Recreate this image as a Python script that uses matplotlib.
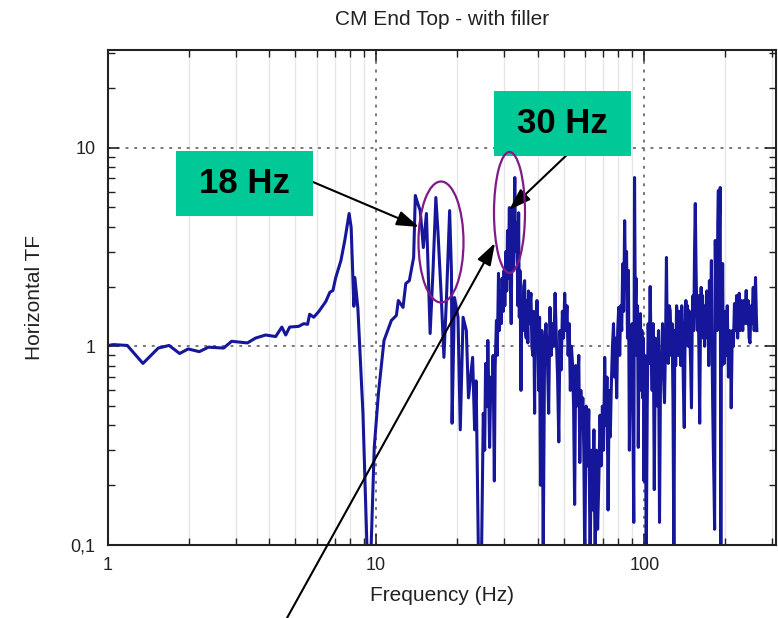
import matplotlib
matplotlib.use("Agg")
from matplotlib import pyplot as plt
from matplotlib import patches
from matplotlib.ticker import FixedLocator, FixedFormatter, LogLocator, NullFormatter
import numpy as np

plt.rcParams['font.family'] = ['Liberation Sans', 'DejaVu Sans']

# data: (frequency in Hz, horizontal TF)
seg_low = [(1.0, 1.01), (1.05, 1.02), (1.18, 1.01), (1.35, 0.82), (1.54, 0.98), (1.69, 1.01),
           (1.85, 0.92), (1.99, 0.97), (2.19, 0.94), (2.37, 0.99), (2.70, 0.98), (2.89, 1.06),
           (3.31, 1.04), (3.55, 1.10), (3.87, 1.14), (4.04, 1.13), (4.22, 1.12), (4.45, 1.25),
           (4.60, 1.14), (4.76, 1.25), (5.14, 1.26), (5.37, 1.30), (5.55, 1.29), (5.65, 1.45),
           (5.85, 1.40), (6.12, 1.50), (6.49, 1.68), (6.72, 1.87), (6.90, 1.91), (7.07, 2.22),
           (7.39, 2.70), (7.64, 3.41), (7.93, 4.66), (8.07, 3.97), (8.26, 1.59), (8.33, 2.22),
           (8.42, 1.91), (8.55, 1.55), (8.93, 0.46), (9.26, 0.09), (9.40, 0.05), (9.56, 0.09),
           (9.84, 0.31), (10.2, 0.58), (10.7, 1.07), (11.4, 1.35), (11.9, 1.43)]

seg_18hz = [(12.1, 1.70), (12.6, 1.57), (12.9, 2.07), (13.3, 2.14), (13.8, 2.80), (14.0, 5.74),
            (14.3, 5.23), (14.6, 4.82), (15.0, 3.14), (15.4, 4.66), (15.9, 1.16), (16.3, 2.41),
            (16.7, 5.61), (17.0, 3.82), (17.5, 1.76), (17.9, 0.88), (18.3, 1.76), (18.8, 4.82),
            (19.1, 2.33), (19.2, 0.41), (19.6, 1.76), (20.2, 1.40), (20.6, 0.38), (21.1, 1.40),
            (21.7, 1.20), (22.1, 0.55), (22.9, 0.88), (23.3, 0.38), (23.6, 0.67), (24.1, 0.08)]

seg_30hz = [(24.7, 0.08), (25.1, 0.46), (25.4, 0.30), (25.6, 0.82), (25.9, 0.50), (26.1, 1.07),
            (26.3, 0.60), (26.5, 0.31), (26.8, 0.70), (27.1, 0.58), (27.3, 0.90), (27.6, 0.21),
            (27.8, 0.80), (28.1, 1.35), (28.3, 0.90), (28.6, 2.33), (28.8, 1.20), (29.0, 1.90),
            (29.3, 1.30), (29.5, 2.20), (29.8, 1.50), (30.0, 2.41), (30.2, 1.60), (30.5, 3.00),
            (30.7, 1.90), (30.9, 3.82), (31.1, 2.20), (31.4, 4.99), (31.6, 2.50), (31.9, 1.30),
            (32.1, 3.50), (32.3, 5.00), (32.5, 2.40), (32.7, 4.00), (32.9, 7.07), (33.1, 3.00),
            (33.3, 4.20), (33.6, 2.61), (33.8, 1.60), (34.0, 4.70), (34.2, 1.40), (34.4, 2.40),
            (34.7, 0.60), (34.9, 1.60), (35.2, 1.20), (35.5, 2.00), (35.8, 2.14), (36.0, 1.20),
            (36.3, 1.10), (36.5, 1.70), (36.8, 1.04), (37.0, 1.90), (37.3, 1.30), (37.6, 1.70),
            (37.8, 1.85), (38.1, 1.00), (38.4, 0.90), (38.7, 1.50), (39.0, 0.46), (39.2, 1.30),
            (39.5, 1.00), (39.8, 1.70), (40.1, 1.10), (40.4, 0.60), (40.7, 1.40)]

seg_40_100 = [(41.0, 0.20), (41.5, 1.20), (42.0, 0.09), (42.5, 1.00), (43.0, 1.30), (43.5, 0.90),
              (44.0, 0.46), (44.5, 1.57), (45.0, 0.90), (45.5, 1.30), (46.0, 1.00), (46.5, 1.85),
              (47.0, 1.10), (47.5, 0.70), (48.0, 0.33), (48.5, 1.20), (49.0, 0.76), (49.5, 1.50),
              (50.0, 1.10), (50.5, 1.85), (51.0, 1.20), (51.5, 1.60), (52.0, 0.90), (52.5, 1.30),
              (53.0, 0.60), (53.5, 1.00), (54.0, 0.82), (54.5, 0.50), (55.0, 0.16), (55.5, 0.80),
              (56.0, 0.50), (56.5, 0.67), (57.0, 0.90), (57.5, 0.26), (58.0, 0.60), (58.5, 0.40),
              (59.0, 0.55), (59.5, 0.30), (60.0, 0.08), (60.7, 0.50), (61.4, 0.25), (62.1, 0.48),
              (62.8, 0.08), (63.5, 0.30), (64.2, 0.15), (64.9, 0.38), (65.6, 0.08), (66.3, 0.30),
              (67.0, 0.12), (67.7, 0.21), (68.4, 0.45), (69.1, 0.25), (69.8, 0.50), (70.5, 0.30),
              (71.2, 0.88), (71.9, 0.40), (72.6, 0.70), (73.3, 0.15), (74.0, 0.60), (74.7, 0.35),
              (75.4, 0.65), (76.1, 1.00), (76.8, 1.30), (77.5, 0.70), (78.2, 1.10), (78.9, 0.55),
              (79.6, 1.20), (80.3, 1.57), (81.0, 0.90), (81.7, 1.60), (82.4, 1.20), (83.1, 2.60),
              (83.8, 1.50), (84.5, 4.29), (85.2, 2.00), (85.9, 3.00), (86.6, 1.10), (87.3, 2.41),
              (88.0, 0.30), (88.7, 0.90), (89.4, 0.55), (90.1, 1.30), (90.8, 0.40), (91.4, 0.13),
              (92.0, 7.07), (92.6, 1.50), (93.2, 2.20), (93.8, 0.90), (94.4, 1.60), (95.0, 0.31),
              (95.6, 1.00), (96.2, 0.70), (96.8, 1.46), (97.4, 0.60), (98.0, 1.20), (98.6, 0.55),
              (99.2, 1.10), (99.8, 0.21), (100.4, 0.90), (101.0, 0.60), (101.7, 0.08)]

seg_high = [(102.6, 0.50), (103.4, 1.30), (104.3, 0.82), (105.2, 2.00), (106, 0.99), (107, 0.60),
            (108, 1.30), (109, 0.19), (110, 1.10), (111, 0.99), (112, 0.50), (113, 1.20),
            (114, 0.13), (115, 0.70), (116, 0.88), (117, 1.30), (118, 0.70), (119, 0.52),
            (120, 1.00), (121, 2.80), (122, 0.90), (123, 0.82), (124, 1.60), (125, 1.51),
            (126, 0.90), (127, 1.30), (128, 0.52), (129, 0.08), (130, 1.20), (131, 0.80),
            (132, 1.60), (133, 1.40), (134, 0.90), (135, 1.50), (136, 1.11), (137, 0.80),
            (138, 1.60), (139, 1.20), (140, 0.60), (141, 0.39), (142, 1.10), (143, 1.70),
            (144, 1.20), (145, 1.60), (146, 1.00), (147, 1.51), (148, 1.10), (149, 0.80),
            (150, 0.49), (151, 1.30), (152, 1.80), (153, 1.20), (154, 3.00), (155, 5.23),
            (156, 2.50), (157, 1.50), (158, 1.20), (159, 1.80), (160, 0.90), (161, 0.41),
            (162, 1.20), (163, 1.98), (164, 1.30), (165, 1.80), (166, 1.10), (167, 1.60),
            (168, 1.00), (169, 1.57), (170, 1.20), (171, 1.90), (172, 1.10), (173, 1.70),
            (174, 0.80), (175, 2.14), (176, 1.20), (177, 1.60), (178, 2.70), (179, 1.00),
            (180, 0.50), (181, 0.30), (182, 0.20), (183, 0.12), (184, 3.41), (185, 1.50),
            (186, 2.50), (187, 1.20), (188, 4.20), (189, 6.08), (190, 2.00), (191, 4.50),
            (192, 6.30), (193, 0.08), (194, 1.50), (195, 0.80), (196, 2.61), (197, 1.00),
            (198, 1.50), (199, 0.82), (200, 1.50), (202, 0.90), (204, 1.60), (206, 0.70),
            (208, 1.20), (210, 0.90), (211, 0.49), (213, 1.20), (215, 1.00), (217, 1.64),
            (219, 1.20), (221, 1.80), (223, 1.10), (225, 1.60), (226, 1.85), (228, 1.20),
            (230, 1.70), (233, 1.20), (235, 1.70), (237, 1.30), (240, 1.91), (242, 1.30),
            (244, 1.70), (246, 1.10), (248, 1.04), (250, 1.60), (252, 1.30), (255, 1.98),
            (257, 1.20), (260, 2.22), (262, 1.40), (263, 1.20)]

points = seg_low + seg_18hz + seg_30hz + seg_40_100 + seg_high
freq = np.array([p[0] for p in points])
tf = np.array([p[1] for p in points])

W, H = 778, 618
fig = plt.figure(figsize=(W / 100, H / 100), dpi=100)
ax = fig.add_axes([108 / W, 73 / H, 668 / W, 495 / H])

def fp(x, y):
    # figure pixel (from top-left) -> figure fraction
    return (x / W, 1 - y / H)

ax.plot(freq, tf, color='#16169a', lw=2.2)

ax.set_xscale('log')
ax.set_yscale('log')
ax.set_xlim(1, 310)
ax.set_ylim(0.1, 31)

ax.xaxis.set_major_locator(FixedLocator([1, 10, 100]))
ax.xaxis.set_major_formatter(FixedFormatter(['1', '10', '100']))
ax.xaxis.set_minor_locator(LogLocator(base=10, subs=np.arange(2, 10)))
ax.xaxis.set_minor_formatter(NullFormatter())
ax.yaxis.set_major_locator(FixedLocator([0.1, 1, 10]))
ax.yaxis.set_major_formatter(FixedFormatter(['0,1', '1', '10']))
ax.yaxis.set_minor_locator(LogLocator(base=10, subs=np.arange(2, 10)))
ax.yaxis.set_minor_formatter(NullFormatter())

ax.tick_params(which='both', direction='in', top=True, right=True, colors='#222222')
ax.tick_params(which='major', length=8, width=1.2, labelsize=13, pad=9)
ax.tick_params(which='minor', length=5, width=1.0)

ax.grid(True, which='major', linestyle=(0, (1.5, 3)), color='#777777', lw=1.4)
ax.grid(True, which='minor', axis='x', linestyle='-', color='#e6e6e6', lw=1.0)
ax.set_axisbelow(True)
for s in ax.spines.values():
    s.set_linewidth(1.5)
    s.set_color('#222222')

ax.set_title('CM End Top - with filler', fontsize=15, color='#222222', pad=18)
ax.set_xlabel('Frequency (Hz)', fontsize=15, color='#222222', labelpad=8)
ax.set_ylabel('Horizontal TF', fontsize=15, color='#222222', labelpad=19)

# green labels
green = '#00c896'
for (x0, y0, x1, y1, label) in [(176, 151, 313, 216, '18 Hz'), (494, 91, 631, 156, '30 Hz')]:
    fig.add_artist(patches.Rectangle(fp(x0, y1), (x1 - x0) / W, (y1 - y0) / H,
                                     transform=fig.transFigure, facecolor=green,
                                     edgecolor='none', zorder=5))
    cx, cy = fp((x0 + x1) / 2, (y0 + y1) / 2)
    fig.text(cx, cy, label, ha='center', va='center', fontsize=25,
             fontweight='bold', color='black', zorder=6)

# purple ellipses
for (cx, cy, w, h) in [(441, 242, 45, 121), (509.5, 212.5, 31, 121)]:
    fig.add_artist(patches.Ellipse(fp(cx, cy), w / W, h / H, transform=fig.transFigure,
                                   facecolor='none', edgecolor='#7f1a86', lw=1.6, zorder=6))

# arrows
arrow = dict(arrowstyle='-|>,head_length=0.9,head_width=0.3', color='black',
             lw=1.5, mutation_scale=15, shrinkA=0, shrinkB=0)
for (xs, ys, xe, ye) in [(313, 182, 419, 227), (571, 151, 509, 210), (287, 618, 495, 243)]:
    ax.annotate('', xy=fp(xe, ye), xytext=fp(xs, ys), xycoords='figure fraction',
                textcoords='figure fraction', arrowprops=arrow, annotation_clip=False,
                zorder=7)

fig.savefig('out.png', dpi=100)
